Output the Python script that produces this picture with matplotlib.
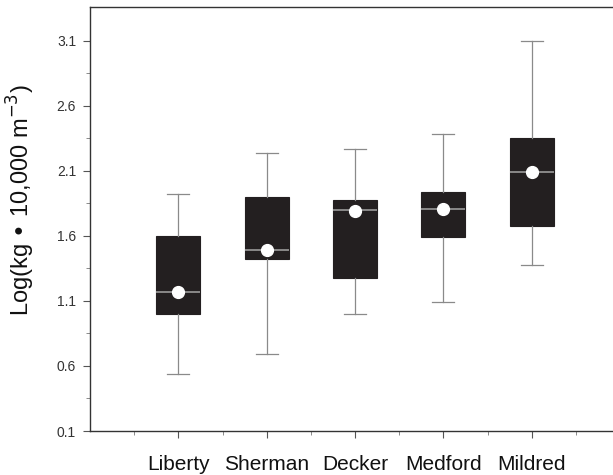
import matplotlib
matplotlib.use("Agg")
import matplotlib.pyplot as plt
from matplotlib.ticker import FixedLocator

plt.rcParams['font.family'] = ['Liberation Sans', 'DejaVu Sans']

sites = ["Liberty", "Sherman", "Decker", "Medford", "Mildred"]
whislo = [0.54, 0.69, 1.00, 1.09, 1.38]
q1 = [1.00, 1.42, 1.28, 1.595, 1.68]
med = [1.165, 1.49, 1.80, 1.81, 2.095]
q3 = [1.60, 1.90, 1.875, 1.94, 2.356]
whishi = [1.92, 2.24, 2.27, 2.38, 3.10]
means = [1.165, 1.49, 1.795, 1.81, 2.095]

stats = []
for i, s in enumerate(sites):
    stats.append(dict(label=s, whislo=whislo[i], q1=q1[i], med=med[i],
                      q3=q3[i], whishi=whishi[i], mean=means[i], fliers=[]))

fig = plt.figure(figsize=(6.13, 4.75), dpi=100)
ax = fig.add_axes([0.1468, 0.0926, 0.8532, 0.8927])

positions = list(range(1, len(sites) + 1))
ax.bxp(stats, positions=positions, widths=0.5, patch_artist=True,
       showmeans=True, meanline=False,
       boxprops=dict(facecolor='#231f20', edgecolor='#231f20', linewidth=0.8),
       whiskerprops=dict(color='#8a8a8a', linewidth=0.9),
       capprops=dict(color='#8a8a8a', linewidth=0.9),
       medianprops=dict(color='#9a9a9a', linewidth=1.2),
       meanprops=dict(marker='o', markerfacecolor='white', markeredgecolor='white',
                      markersize=8.5))

ax.set_xlim(0, 5.92)
ax.set_ylim(0.1, 3.36)
ax.set_yticks([0.1, 0.6, 1.1, 1.6, 2.1, 2.6, 3.1])
ax.set_yticklabels(["0.1", "0.6", "1.1", "1.6", "2.1", "2.6", "3.1"])
ax.yaxis.set_minor_locator(FixedLocator([0.35, 0.85, 1.35, 1.85, 2.35, 2.85]))
ax.set_xticks(positions)
ax.set_xticklabels(sites)
ax.xaxis.set_minor_locator(FixedLocator([0.5, 1.5, 2.5, 3.5, 4.5, 5.5]))

ax.tick_params(axis='y', which='major', length=5, width=0.8, color='#555555',
               labelsize=10, labelcolor='#333333', pad=5)
ax.tick_params(axis='y', which='minor', length=3, width=0.6, color='#777777')
ax.tick_params(axis='x', which='major', length=5, width=0.8, color='#555555',
               labelsize=15, labelcolor='#111111', pad=12)
ax.tick_params(axis='x', which='minor', length=3, width=0.6, color='#777777')

for sp in ['left', 'bottom', 'top']:
    ax.spines[sp].set_color('#333333')
    ax.spines[sp].set_linewidth(1.0)
ax.spines['right'].set_visible(False)

ax.set_ylabel("Log(kg • 10,000 m$^{-3}$)", fontsize=17, color='#111111')
ax.yaxis.set_label_coords(-0.101, 0.545)

fig.savefig("out.png", dpi=100)
